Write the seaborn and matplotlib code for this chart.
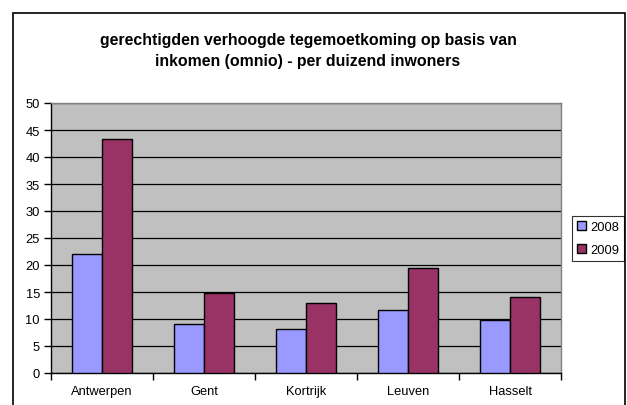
import matplotlib
matplotlib.use("Agg")
import matplotlib.pyplot as plt
import seaborn as sns
import pandas as pd
from matplotlib.patches import Rectangle

cities = ["Antwerpen", "Gent", "Kortrijk", "Leuven", "Hasselt"]
vals_2008 = [22.0, 9.0, 8.1, 11.6, 9.9]
vals_2009 = [43.4, 14.8, 13.0, 19.4, 14.1]
years = ["2008", "2009"]
title = "gerechtigden verhoogde tegemoetkoming op basis van\ninkomen (omnio) - per duizend inwoners"

df = pd.DataFrame({
    "stad": cities * 2,
    "jaar": [years[0]] * len(cities) + [years[1]] * len(cities),
    "waarde": vals_2008 + vals_2009,
})

sns.set_theme(style="white")
plt.rcParams["font.family"] = ["Liberation Sans", "DejaVu Sans"]
plt.rcParams["text.color"] = "black"
plt.rcParams["xtick.color"] = "black"
plt.rcParams["ytick.color"] = "black"

W, H = 627, 406
fig = plt.figure(figsize=(W / 100, H / 100), dpi=100)
ax = fig.add_axes([51 / W, 1 - 374 / H, 510 / W, 270 / H])
ax.set_facecolor("#C0C0C0")

sns.barplot(data=df, x="stad", y="waarde", hue="jaar", palette=["#9999FF", "#993366"],
            saturation=1, width=0.58, gap=0, edgecolor="black", linewidth=1.0, ax=ax,
            legend=True, zorder=3)

ax.set_ylim(0, 50)
ax.set_xlim(-0.5, 4.5)
ax.set_yticks(range(0, 51, 5))
ax.yaxis.grid(True, color="black", linewidth=0.9, zorder=0)
ax.set_axisbelow(True)
ax.set_xlabel("")
ax.set_ylabel("")

ax.set_xticks(range(5))
ax.set_xticklabels(cities, fontsize=9.3)
ax.tick_params(axis="x", length=0, pad=9, labelcolor="black")
ax.set_xticks([i + 0.5 for i in range(-1, 5)], minor=True)
ax.tick_params(axis="x", which="minor", length=5, width=1, color="black", direction="out", bottom=True)
ax.tick_params(axis="y", length=5, width=1, color="black", direction="out", labelsize=9.3,
               pad=3, left=True, labelcolor="black")

for s in ["left", "bottom"]:
    ax.spines[s].set_color("black")
    ax.spines[s].set_linewidth(1)
for s in ["top", "right"]:
    ax.spines[s].set_color("#808080")
    ax.spines[s].set_linewidth(1)

leg = ax.legend(loc="upper left", bbox_to_anchor=(572 / W, 1 - 217 / H), bbox_transform=fig.transFigure,
                frameon=True, fancybox=False, fontsize=9.3, handlelength=0.7, handleheight=0.7,
                handletextpad=0.3, borderpad=0.4, labelspacing=0.8, borderaxespad=0)
leg.get_frame().set_edgecolor("black")
leg.get_frame().set_linewidth(0.8)
for t in leg.get_texts():
    t.set_color("black")

fig.text(308 / W, 1 - 51 / H, title, ha="center", va="center", fontsize=11.4, fontweight="bold",
         linespacing=1.5, color="black")

fig.patches.append(Rectangle((13 / W, -0.05), (625 - 13) / W, 1 - 14 / H + 0.05,
                             transform=fig.transFigure, fill=False, edgecolor="black", linewidth=1.2))

fig.savefig("out.png", dpi=100)
